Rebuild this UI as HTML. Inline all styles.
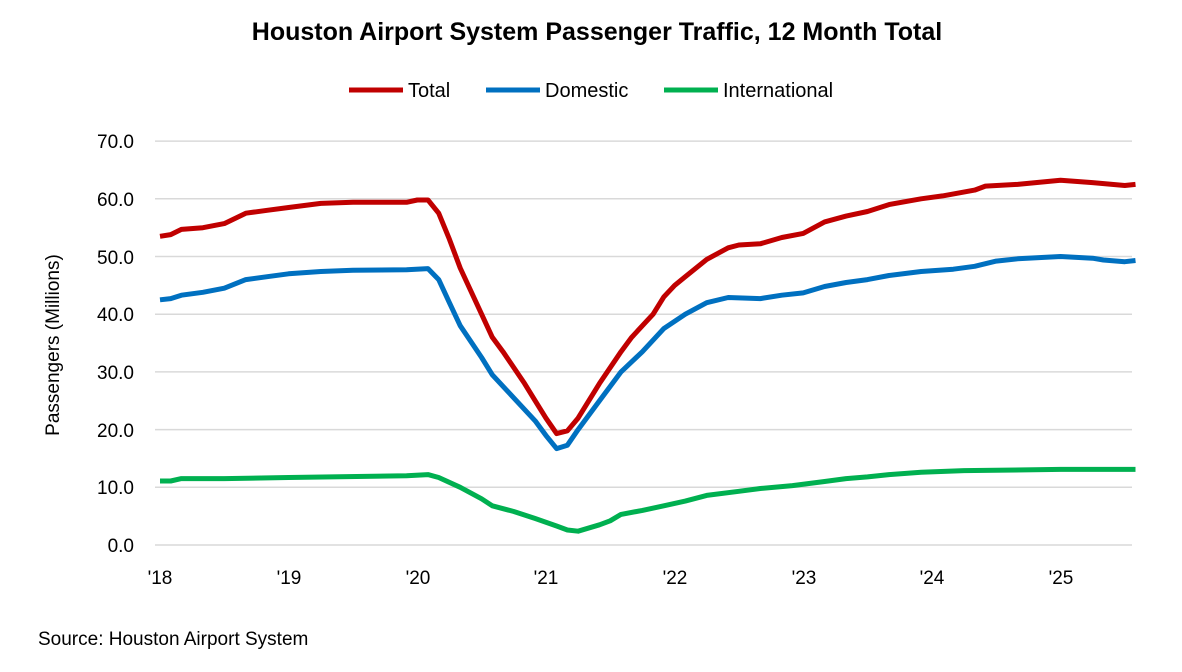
<!DOCTYPE html><html><head><style>body{margin:0;background:#fff}svg{font-family:"Liberation Sans",Arial,sans-serif}</style></head><body>
<svg width="1182" height="667" viewBox="0 0 1182 667" xmlns="http://www.w3.org/2000/svg">
<text x="597" y="40" text-anchor="middle" font-size="25" font-weight="bold">Houston Airport System Passenger Traffic, 12 Month Total</text>
<g font-size="20">
<line x1="349" y1="90" x2="403" y2="90" stroke="#c00000" stroke-width="5"/><text x="408" y="97">Total</text>
<line x1="486" y1="90" x2="540" y2="90" stroke="#0070c0" stroke-width="5"/><text x="545" y="97">Domestic</text>
<line x1="664" y1="90" x2="718" y2="90" stroke="#00b050" stroke-width="5"/><text x="723" y="97">International</text>
</g>
<g stroke="#d9d9d9" stroke-width="1.5">
<line x1="155" x2="1132" y1="545" y2="545"/><line x1="155" x2="1132" y1="487.3" y2="487.3"/><line x1="155" x2="1132" y1="429.6" y2="429.6"/><line x1="155" x2="1132" y1="371.9" y2="371.9"/><line x1="155" x2="1132" y1="314.2" y2="314.2"/><line x1="155" x2="1132" y1="256.5" y2="256.5"/><line x1="155" x2="1132" y1="198.8" y2="198.8"/><line x1="155" x2="1132" y1="141.1" y2="141.1"/>
</g>
<g font-size="19" text-anchor="end">
<text x="134" y="552">0.0</text><text x="134" y="494">10.0</text><text x="134" y="437">20.0</text><text x="134" y="379">30.0</text><text x="134" y="321">40.0</text><text x="134" y="264">50.0</text><text x="134" y="206">60.0</text><text x="134" y="148">70.0</text>
</g>
<g font-size="19" text-anchor="middle">
<text x="160" y="584">'18</text><text x="289" y="584">'19</text><text x="418" y="584">'20</text><text x="546" y="584">'21</text><text x="675" y="584">'22</text><text x="804" y="584">'23</text><text x="932" y="584">'24</text><text x="1061" y="584">'25</text>
</g>
<text transform="translate(59,345) rotate(-90)" text-anchor="middle" font-size="19">Passengers (Millions)</text>
<text x="38" y="645" font-size="19">Source: Houston Airport System</text>
<g fill="none" stroke-width="5" stroke-linejoin="round" id="s"></g>
</svg>
<script>
function p(d){return d.map(a=>(160+a[0]*10.72).toFixed(1)+","+(545-a[1]*5.77).toFixed(1)).join(" ")}
var T=[[0,53.5],[1,53.8],[2,54.7],[4,55],[6,55.7],[8,57.5],[10,58],[12,58.5],[15,59.2],[18,59.4],[23,59.4],[24,59.8],[25,59.8],[26,57.5],[27,53],[28,48],[30,40],[31,36],[32,33.5],[34,28],[35,25],[36,22],[37,19.3],[38,19.8],[39,22],[41,28],[43,33.5],[44,36],[45,38],[46,40],[47,43],[48,45],[49,46.5],[51,49.5],[53,51.5],[54,52],[56,52.2],[58,53.3],[60,54],[62,56],[64,57],[66,57.8],[68,59],[71,60],[73,60.5],[76,61.5],[77,62.2],[80,62.5],[84,63.2],[87,62.8],[90,62.3],[91,62.5]];
var D=[[0,42.5],[1,42.7],[2,43.3],[4,43.8],[6,44.5],[8,46],[10,46.5],[12,47],[15,47.4],[18,47.6],[23,47.7],[25,47.9],[26,46],[27,42],[28,38],[30,32.5],[31,29.5],[32,27.5],[34,23.5],[35,21.5],[36,19],[37,16.7],[38,17.3],[39,20],[41,25],[43,30],[45,33.5],[47,37.5],[49,40],[51,42],[53,42.9],[56,42.7],[58,43.3],[60,43.7],[62,44.8],[64,45.5],[66,46],[68,46.7],[71,47.4],[74,47.8],[76,48.3],[78,49.2],[80,49.6],[84,50],[87,49.7],[88,49.4],[90,49.1],[91,49.3]];
var I=[[0,11.1],[1,11.1],[2,11.5],[6,11.5],[12,11.7],[23,12],[25,12.2],[26,11.7],[28,10],[30,8],[31,6.8],[33,5.8],[35,4.6],[37,3.3],[38,2.6],[39,2.4],[41,3.5],[42,4.2],[43,5.3],[45,6],[47,6.8],[49,7.6],[51,8.6],[54,9.3],[56,9.8],[59,10.3],[62,11],[64,11.5],[66,11.8],[68,12.2],[71,12.6],[75,12.9],[84,13.1],[91,13.1]];
var g=document.getElementById("s"),ns="http://www.w3.org/2000/svg";
[[I,"#00b050"],[D,"#0070c0"],[T,"#c00000"]].forEach(function(s){var e=document.createElementNS(ns,"polyline");e.setAttribute("points",p(s[0]));e.setAttribute("stroke",s[1]);g.appendChild(e)});
</script>
</body></html>
